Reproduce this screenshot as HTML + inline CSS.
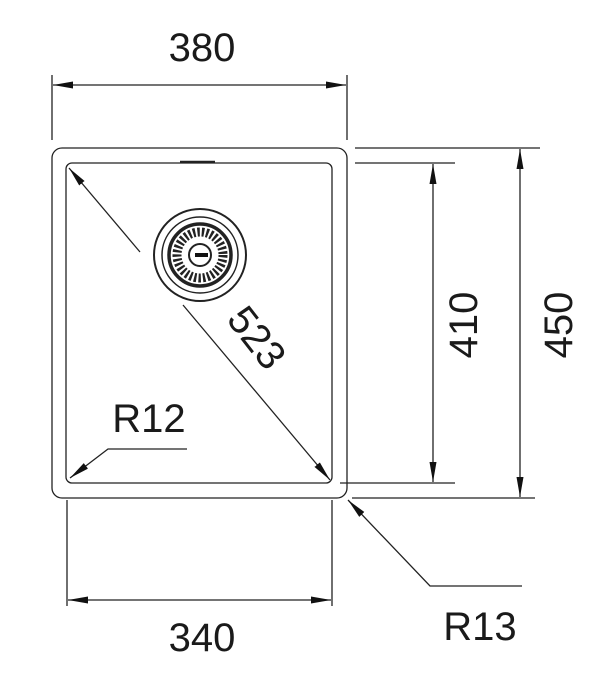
<!DOCTYPE html>
<html><head><style>
html,body{margin:0;padding:0;background:#fff;}
svg{display:block}
text{font-family:"Liberation Sans",Arial,sans-serif;fill:#1a1a1a;}
</style></head><body>
<svg width="615" height="700" viewBox="0 0 615 700" xmlns="http://www.w3.org/2000/svg">
<defs>
<marker id="b" viewBox="0 0 20 10" refX="20" refY="5" markerWidth="20" markerHeight="10" markerUnits="userSpaceOnUse" orient="auto-start-reverse">
<path d="M0,1.5 L20,5 L0,8.5 z" fill="#111"/></marker>
</defs>
<g stroke="#222" stroke-width="1.3" fill="none">
<rect x="52" y="148" width="295" height="350" rx="10"/>
<rect x="66" y="163" width="266" height="320" rx="6"/>
<path d="M180 162 L215 162" stroke-width="2.5"/>
<path d="M52 75 V140 M347 75 V140"/>
<path d="M53 85 H346" marker-start="url(#b)" marker-end="url(#b)"/>
<path d="M67 500 V606 M332 500 V606"/>
<path d="M68 600 H331" marker-start="url(#b)" marker-end="url(#b)"/>
<path d="M355 163 H455 M340 483 H455"/>
<path d="M433 164 V482" marker-start="url(#b)" marker-end="url(#b)"/>
<path d="M355 148 H540 M352 498 H535"/>
<path d="M520 149 V497" marker-start="url(#b)" marker-end="url(#b)"/>
<path d="M140 252 L69 168" marker-end="url(#b)"/>
<path d="M183 305 L330 480" marker-end="url(#b)"/>
<path d="M187 449 H108 L70 478" marker-end="url(#b)"/>
<path d="M522 586 H430 L348 500" marker-end="url(#b)"/>
<circle cx="200" cy="255" r="46" stroke-width="2"/>
<circle cx="200" cy="255" r="38" stroke-width="1.5"/>
<circle cx="200" cy="255" r="31" stroke-width="3.5"/>
<circle cx="200" cy="255" r="23" stroke-width="9" stroke-dasharray="2.4 2"/>
<circle cx="200" cy="255" r="11" stroke-width="2"/>
</g>
<rect x="195" y="253" width="13" height="4" fill="#111"/>
<text x="202" y="61" font-size="40" text-anchor="middle">380</text>
<text x="202" y="651" font-size="40" text-anchor="middle">340</text>
<text x="149" y="432" font-size="40" text-anchor="middle">R12</text>
<text x="480" y="640" font-size="40" text-anchor="middle">R13</text>
<text transform="translate(477,325) rotate(-90)" font-size="40" text-anchor="middle">410</text>
<text transform="translate(572,325) rotate(-90)" font-size="40" text-anchor="middle">450</text>
<text transform="translate(246,346) rotate(52)" font-size="40" text-anchor="middle">523</text>
</svg>
</body></html>
